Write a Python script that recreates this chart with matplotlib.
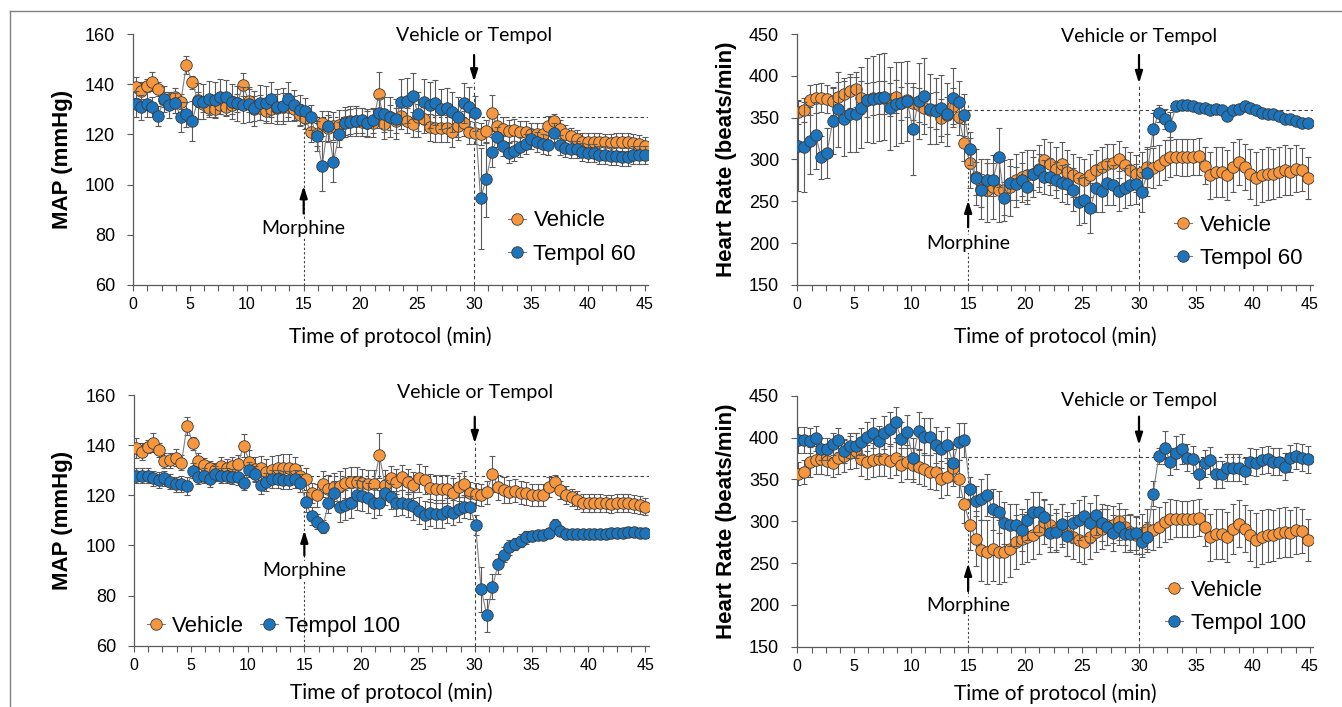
import numpy as np
import matplotlib
matplotlib.use("Agg")
import matplotlib.pyplot as plt
from matplotlib.lines import Line2D

plt.rcParams['font.family'] = ['Liberation Sans', 'DejaVu Sans']

# ---- MAP (mmHg), 30 s bins ----
veh_map = [
    138.7, 137.4, 139.4, 141.0, 138.0, 133.8, 134.0, 135.0, 133.0, 147.8,
    140.7, 133.8, 132.0, 130.7, 130.0, 131.7, 131.0, 131.7, 132.5, 139.8,
    133.4, 130.3, 130.7, 129.4, 130.0, 130.7, 131.0, 131.0, 130.3, 127.7,
    126.5, 121.0, 120.0, 124.5, 122.4, 123.4, 123.7, 124.8, 125.4, 125.4,
    125.0, 124.5, 124.5, 136.0, 124.1, 126.8, 125.4, 127.2, 125.4, 124.1,
    126.8, 126.1, 122.8, 122.4, 122.4, 122.4, 120.8, 123.2, 124.5, 120.8,
    120.5, 120.1, 121.2, 128.5, 123.2, 122.1, 121.4, 121.8, 121.0, 120.8,
    120.1, 120.1, 120.1, 123.2, 125.2, 122.1, 120.1, 119.2, 118.1, 117.0,
    117.0, 117.0, 117.0, 116.8, 116.5, 117.0, 117.0, 117.0, 116.5, 116.1,
    115.5]
veh_map_err = [
    4, 3.3, 2.7, 3.7, 2.7, 3, 3, 3.5, 3, 3.6,
    2.5, 3, 3, 3, 3, 3.5, 3.5, 3.5, 3.5, 4.5,
    4.5, 5, 5, 5, 5.5, 5.5, 5.5, 5.5, 5, 4.4,
    4.5, 4, 4.5, 5, 5.5, 5.5, 6, 6, 6, 6,
    5.5, 5.5, 5.5, 9, 6, 5, 5, 5, 5, 5,
    5.5, 5.5, 5.5, 5.5, 5.5, 5.5, 6, 5.5, 5, 4.5,
    4.5, 4.5, 4.5, 7.2, 5, 5, 4.5, 4.5, 4.5, 4.5,
    4.5, 4.5, 4.5, 4, 3, 3.5, 3.5, 3.5, 3.5, 3.5,
    3.5, 3.5, 3.5, 3.5, 3.5, 3.5, 3.5, 3.5, 3.5, 3.5,
    3.5]
t60_map = [
    132.1, 130.8, 132.0, 130.8, 127.5, 134.1, 131.7, 132.4, 127.1, 128.0,
    125.5, 133.3, 133.0, 134.1, 133.7, 135.0, 134.8, 133.0, 132.4, 131.7,
    132.0, 130.4, 132.6, 132.4, 134.0, 131.0, 131.3, 134.0, 131.7, 129.7,
    129.5, 126.8, 119.3, 107.4, 123.3, 109.1, 120.0, 124.7, 125.1, 125.5,
    125.7, 124.4, 125.7, 128.4, 128.0, 127.0, 126.0, 133.0, 133.4, 135.3,
    128.0, 133.0, 131.7, 132.6, 130.0, 130.4, 129.0, 127.0, 132.4, 130.8,
    128.4, 94.5, 102.1, 112.9, 118.8, 115.4, 112.5, 113.4, 115.1, 116.2,
    118.0, 117.1, 116.2, 115.8, 120.7, 115.8, 114.4, 114.0, 114.0, 113.1,
    112.5, 112.7, 111.8, 111.8, 111.4, 111.4, 111.1, 111.1, 111.8, 111.8,
    111.8]
t60_map_err = [
    5, 5, 5, 4, 4, 5, 5, 4, 6, 5,
    8, 7, 7, 7, 7, 7, 7, 7, 7, 7,
    7, 7, 7, 7, 7, 7, 7, 7, 6, 6,
    5, 5, 6, 9.8, 6, 8, 5, 5, 5, 5,
    5, 5, 5, 6, 7, 8, 8, 9, 9, 9,
    9, 9, 9, 9, 8, 8, 8, 8, 8, 8,
    7, 20, 15, 6, 4, 4, 4, 4, 4, 4,
    4, 4, 4, 4, 4, 4, 3.5, 3.5, 3.5, 3.5,
    3.5, 3.5, 3.5, 3.5, 3.5, 3.5, 3.5, 3.5, 3.5, 3.5,
    3.5]
t100_map = [
    127.7, 127.7, 127.7, 126.8, 126.1, 126.8, 125.4, 124.4, 124.5, 123.7,
    129.8, 127.4, 127.7, 126.4, 128.5, 127.7, 127.7, 127.4, 127.2, 125.0,
    130.1, 128.5, 124.1, 125.4, 126.4, 126.4, 126.1, 126.1, 126.4, 125.0,
    117.4, 111.7, 109.5, 107.5, 117.0, 120.8, 115.5, 116.1, 117.0, 120.1,
    119.7, 118.8, 117.0, 117.0, 121.0, 119.4, 116.8, 117.0, 116.5, 115.7,
    113.9, 112.1, 113.1, 112.5, 112.5, 113.9, 113.1, 114.4, 115.5, 115.2,
    108.1, 82.5, 72.2, 83.5, 92.6, 96.2, 99.2, 100.6, 101.9, 103.2,
    103.7, 104.1, 104.1, 105.1, 108.1, 105.9, 104.5, 104.5, 104.5, 104.5,
    104.5, 104.5, 104.5, 104.5, 104.8, 104.8, 105.1, 105.5, 105.5, 105.1,
    105.1]
t100_map_err = [
    3, 3, 3, 3, 3, 3, 3, 3, 3, 3.5,
    3, 3, 3, 3, 3, 3, 3, 3, 3, 3,
    3, 3, 3.5, 3.5, 3.5, 3.5, 3.5, 3.5, 3.5, 3.5,
    4, 3.5, 3, 2.7, 4, 5, 6, 6, 6, 6,
    6, 6, 6, 5, 5, 5, 5, 5, 5, 5.5,
    5.5, 5.5, 5.5, 5.5, 5.5, 5, 5, 5, 4.5, 4.5,
    4, 9, 6.6, 5, 4, 3, 3, 2.5, 2.5, 2.5,
    2, 2, 2, 2, 2.5, 2, 2, 2, 2, 2,
    2, 2, 2, 2, 2, 2, 2, 2, 2, 2,
    2]

# ---- Heart rate (beats/min) ----
veh_hr = [
    357, 359, 371, 373, 374, 372, 370, 375, 378, 382,
    384, 374, 371, 373, 374, 374, 372, 375, 367, 371,
    367, 365, 362, 359, 359, 350, 353, 364, 351, 320,
    296, 279, 265, 263, 267, 263, 263, 267, 275, 279,
    281, 283, 289, 299, 295, 289, 295, 285, 281, 277.5,
    275, 281, 287, 291, 295, 296, 300, 293, 287, 283,
    285, 291, 290, 293, 299, 302.6, 303, 302.6, 302.6, 303,
    304, 292.6, 281, 285, 285, 281, 291, 297, 291, 283,
    277.5, 281, 283, 283, 285.5, 287, 285.5, 289, 288, 277.5]
veh_hr_err = [
    14, 14, 18, 17, 17, 17, 17, 18, 19, 20,
    21, 20, 20, 20, 20, 20, 20, 20, 20, 20,
    20, 20, 20, 20, 22, 22, 22, 22, 22, 22,
    30, 33, 36, 38, 38, 38, 36, 34, 32, 30,
    30, 28, 28, 26, 26, 26, 26, 26, 26, 26,
    26, 26, 24, 24, 24, 22, 22, 22, 22, 22,
    24, 24, 24, 24, 24, 24, 22, 22, 22, 22,
    22, 22, 28, 30, 30, 30, 30, 28, 28, 30,
    32, 32, 32, 30, 30, 30, 28, 28, 26, 25]
t60_hr = [
    316, 315, 322.5, 329, 302.6, 308, 346, 360, 349, 354,
    354, 362, 371, 372, 374, 375, 361, 366, 368, 370,
    337, 370, 376, 360, 358, 361, 354, 374, 369, 353,
    313, 277.5, 263, 276, 276, 302.6, 253.6, 272, 271, 276,
    267, 283, 287, 279, 279.5, 275.5, 271.5, 271, 264, 249.6,
    251.6, 241.6, 265.5, 262.7, 272, 269.5, 262.7, 265.5, 269.5, 271,
    261.6, 284, 336, 355, 348, 340, 364, 365, 365, 364,
    362, 361, 359, 360, 359, 352, 359, 360, 364, 361,
    359, 356, 354, 354, 352, 349, 348, 346.4, 344, 344]
t60_hr_err = [
    54, 54, 40, 40, 26, 30, 40, 45, 45, 45,
    45, 48, 50, 52, 52, 52, 50, 50, 48, 48,
    55, 45, 45, 42, 40, 40, 38, 35, 25, 25,
    20, 20, 20, 20, 20, 35, 20, 20, 20, 20,
    20, 20, 20, 20, 22, 22, 22, 24, 26, 28,
    28, 30, 28, 26, 26, 24, 24, 24, 24, 24,
    24, 28, 20, 10, 12, 17, 3, 3, 3, 3,
    3, 3, 3, 3, 3, 3, 3, 3, 3, 3,
    3, 3, 3, 3, 3, 3, 3, 3, 3, 3]
t100_hr = [
    397, 397, 396, 399, 386, 386, 392, 397, 384, 390,
    390, 395, 401, 405, 396, 406, 410, 418, 398, 407,
    375, 408, 401, 401, 391, 386, 391, 370, 395, 397,
    339, 324.5, 326, 331, 314, 311, 298, 295.5, 295.5, 289.5,
    302, 311, 311, 305, 285.5, 287.5, 296.6, 282.3, 298, 301,
    306, 298, 307.4, 298, 293, 286, 293, 285, 285, 286,
    275.5, 281.5, 333, 378, 388, 371, 382, 386, 376, 374,
    356, 369, 373, 356, 356, 364, 364, 364, 360, 371,
    370, 373, 374, 371, 371, 365, 375, 378, 376, 374]
t100_hr_err = [
    16, 16, 15, 15, 13, 13, 13, 14, 14, 15,
    15, 16, 17, 18, 18, 20, 20, 19, 20, 20,
    25, 22, 22, 22, 22, 22, 22, 22, 22, 20,
    14, 18, 25, 25, 25, 25, 25, 25, 25, 25,
    24, 24, 24, 22, 22, 22, 24, 24, 24, 24,
    24, 24, 24, 22, 22, 22, 22, 22, 22, 20,
    18, 18, 15, 10, 20, 16, 20, 18, 16, 16,
    16, 16, 16, 16, 16, 16, 16, 16, 16, 16,
    16, 16, 16, 16, 16, 16, 16, 16, 16, 16]

ORANGE = "#F7963C"
BLUE = "#1C75BC"
GREY = "#7f7f7f"
ANNOT_FONT = ["Lato", "DejaVu Sans"]
ARROW = dict(arrowstyle="-|>,head_width=0.22,head_length=0.7", color="black",
             lw=1.6, shrinkA=0, shrinkB=0)

fig = plt.figure(figsize=(13.42, 7.07), dpi=100)
fig.add_artist(Line2D([9.5/1342, 1], [1-10.5/707]*2, transform=fig.transFigure, color="#808080", lw=1))
fig.add_artist(Line2D([9.5/1342]*2, [0, 1-10.5/707], transform=fig.transFigure, color="#808080", lw=1))


def panel(rect, veh, veh_err, trt, trt_err, trt_label, ylim, yticks, ylabel,
          base, morph, drug, leg_pos, leg_ncol, xlab_y):
    ax = fig.add_axes(rect)
    n = len(veh)
    t = np.linspace(0.2, 45.0, n) if n == 91 else np.linspace(0.1, 44.8, n)

    # reference lines
    ax.plot([15, 45.3], [base, base], color="#404040", lw=0.8, ls=(0, (3, 2.5)), zorder=1)
    ax.plot([15, 15], [ylim[0], morph[3]], color="#404040", lw=0.8, ls=(0, (2, 2)), zorder=1)
    ax.plot([30, 30], [ylim[0], drug[1]], color="#404040", lw=0.8, ls=(0, (3, 2.5)), zorder=1)

    ax.errorbar(t, veh, yerr=veh_err, fmt="none", ecolor="#5a5a5a", elinewidth=0.8,
                capsize=2.2, capthick=0.8, zorder=2)
    h1, = ax.plot(t, veh, "-o", color=GREY, lw=0.8, ms=8.3, mfc=ORANGE, mec="#3a3a3a",
                  mew=0.6, zorder=3, label="Vehicle")
    ax.errorbar(t, trt, yerr=trt_err, fmt="none", ecolor="#5a5a5a", elinewidth=0.8,
                capsize=2.2, capthick=0.8, zorder=4)
    h2, = ax.plot(t, trt, "-o", color=GREY, lw=0.8, ms=8.3, mfc=BLUE, mec="#3a3a3a",
                  mew=0.6, zorder=5, label=trt_label)

    ax.set_xlim(0, 45.3)
    ax.set_ylim(*ylim)
    ax.set_xticks(np.arange(0, 46, 5))
    ax.set_xticks(np.arange(0, 45.3, 1.25), minor=True)
    ax.set_yticks(yticks)
    ax.tick_params(axis="both", which="both", direction="out", length=4, width=0.8,
                   color="#595959")
    ax.tick_params(axis="x", labelsize=11.5, pad=5)
    ax.tick_params(axis="y", labelsize=13, pad=9)
    for s in ("top", "right"):
        ax.spines[s].set_visible(False)
    for s in ("left", "bottom"):
        ax.spines[s].set_color("#595959")
        ax.spines[s].set_linewidth(0.9)

    ax.set_ylabel(ylabel, fontsize=16, fontweight="bold", va="center")
    ax.yaxis.set_label_coords(-0.138, 0.5)
    ax.set_xlabel("Time of protocol (min)", fontsize=15, family=ANNOT_FONT, va="center")
    ax.xaxis.set_label_coords(0.5, xlab_y)

    # morph = (text_y, tail, head, vline_top); drug = (tail, head, text_y)
    ax.text(15, morph[0], "Morphine", ha="center", va="center", fontsize=14,
            family=ANNOT_FONT, zorder=6,
            bbox=dict(fc="white", ec="none", pad=0.5))
    ax.annotate("", xy=(15, morph[2]), xytext=(15, morph[1]), arrowprops=ARROW, zorder=7)
    ax.annotate("", xy=(30, drug[1]), xytext=(30, drug[0]), arrowprops=ARROW,
                zorder=7, annotation_clip=False)
    ax.text(30, drug[2], "Vehicle or Tempol", ha="center", va="center", fontsize=14,
            family=ANNOT_FONT, clip_on=False, zorder=6)

    ax.legend(handles=[h1, h2], loc="center left", bbox_to_anchor=leg_pos,
              ncol=leg_ncol, frameon=False, fontsize=16, handlelength=0.8,
              handletextpad=0.35, labelspacing=0.55, columnspacing=0.7,
              borderpad=0, borderaxespad=0)
    return ax


# top-left: MAP, Tempol 60
panel([0.0993, 0.5969, 0.3835, 0.355], veh_map, veh_map_err, t60_map, t60_map_err,
      "Tempol 60", (60, 160), range(60, 161, 20), "MAP (mmHg)",
      127, (82.7, 88.5, 99.5, 125), (151.6, 141.0, 159.6),
      (0.728, 0.189), 1, -0.207)
# top-right: HR, Tempol 60
panel([0.5941, 0.5969, 0.3845, 0.355], veh_hr, veh_hr_err, t60_hr, t60_hr_err,
      "Tempol 60", (150, 450), range(150, 451, 50), "Heart Rate (beats/min)",
      359, (199, 219, 251, 365), (425, 391, 446.8),
      (0.731, 0.171), 1, -0.207)
# bottom-left: MAP, Tempol 100
panel([0.0998, 0.0867, 0.3835, 0.3546], veh_map, veh_map_err, t100_map, t100_map_err,
      "Tempol 100", (60, 160), range(60, 161, 20), "MAP (mmHg)",
      127.8, (90, 96, 106, 127.8), (151.3, 140.7, 160.9),
      (0.025, 0.076), 2, -0.187)
# bottom-right: HR, Tempol 100
panel([0.5941, 0.0853, 0.3845, 0.355], veh_hr, veh_hr_err, t100_hr, t100_hr_err,
      "Tempol 100", (150, 450), range(150, 451, 50), "Heart Rate (beats/min)",
      377, (198.7, 216.5, 249.5, 377), (425, 391, 444),
      (0.7126, 0.159), 1, -0.187)

fig.savefig("out.png", dpi=100)
